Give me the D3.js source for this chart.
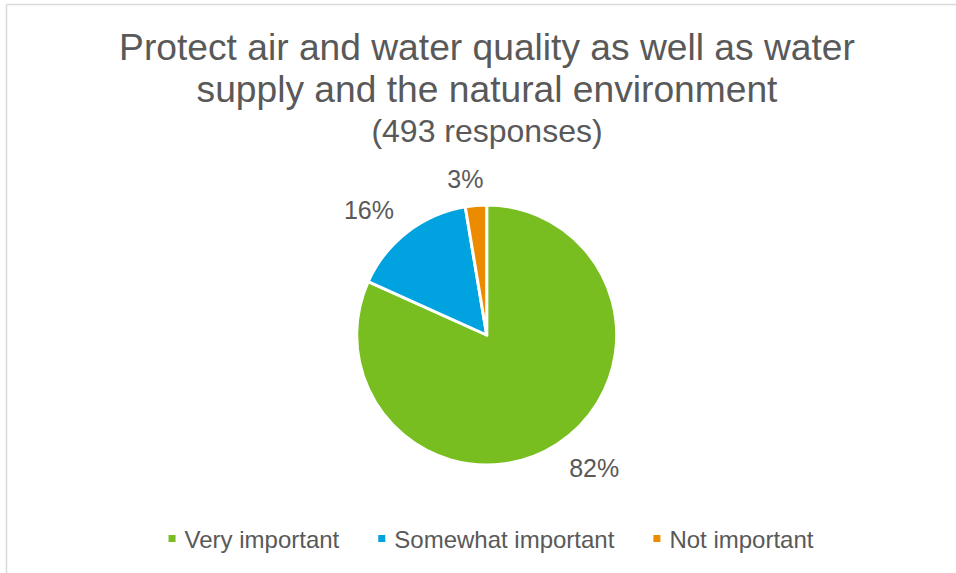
<!DOCTYPE html>
<html>
<head>
<meta charset="utf-8">
<script src="https://cdn.jsdelivr.net/npm/d3@7"></script>
<style>
  html, body { margin: 0; padding: 0; background: #fff; }
  svg text { font-family: "Liberation Sans", Arial, sans-serif; fill: #595959; }
</style>
</head>
<body>
<svg id="chart" width="956" height="573"></svg>
<script>
const titleLines = ["Protect air and water quality as well as water", "supply and the natural environment"];
const subtitle = "(493 responses)";
const categories = ["Very important", "Somewhat important", "Not important"];
const counts = [403, 77, 13];
const percentLabels = ["82%", "16%", "3%"];
const colors = ["#78BE20", "#00A3E0", "#ED8B00"];

const svg = d3.select("#chart");
const W = 956, H = 573;

// chart border (top and left visible)
svg.append("line").attr("x1", 6.5).attr("y1", 4.5).attr("x2", W).attr("y2", 4.5)
  .attr("stroke", "#d9d9d9").attr("stroke-width", 1.5);
svg.append("line").attr("x1", 6.5).attr("y1", 4.5).attr("x2", 6.5).attr("y2", H)
  .attr("stroke", "#d9d9d9").attr("stroke-width", 1.5);

// title
const cx = 487;
svg.append("text").attr("x", cx).attr("y", 60).attr("text-anchor", "middle")
  .attr("font-size", 37.2).text(titleLines[0]);
svg.append("text").attr("x", cx).attr("y", 102).attr("text-anchor", "middle")
  .attr("font-size", 37.2).text(titleLines[1]);
svg.append("text").attr("x", cx).attr("y", 142).attr("text-anchor", "middle")
  .attr("font-size", 32).text(subtitle);

// pie
const pcx = 486.7, pcy = 335, R = 130;
const pie = d3.pie().sort(null).value(d => d)(counts);
const arc = d3.arc().innerRadius(0).outerRadius(R);
const g = svg.append("g").attr("transform", `translate(${pcx},${pcy})`);
g.selectAll("path").data(pie).join("path")
  .attr("d", arc)
  .attr("fill", (d, i) => colors[i])
  .attr("stroke", "#fff").attr("stroke-width", 3).attr("stroke-linejoin", "round");

// labels outside end
const labR = R + 22;
const lw = [50, 50, 35], lh = 10;
pie.forEach((d, i) => {
  const a = (d.startAngle + d.endAngle) / 2;
  const s = Math.sin(a), c = Math.cos(a);
  const px = labR * s, py = -labR * c;
  const dx = (lw[i] / 2) * Math.sign(s) * Math.min(1, Math.abs(s) * 6);
  const dy = -(lh / 2) * Math.sign(c) * Math.min(1, Math.abs(c) * 3);
  g.append("text")
    .attr("x", px + dx).attr("y", py + dy)
    .attr("text-anchor", "middle").attr("dominant-baseline", "central")
    .attr("font-size", 25).text(percentLabels[i]);
});

// legend
const legY = 539;
const lg = svg.append("g");
const items = lg.selectAll("g").data(categories).join("g");
items.append("rect").attr("width", 7).attr("height", 7).attr("y", legY - 4)
  .attr("fill", (d, i) => colors[i]);
items.append("text").attr("x", 16).attr("y", legY).attr("dominant-baseline", "central")
  .attr("font-size", 24).text(d => d);
let x = 0;
const gap = 39;
items.each(function() {
  const t = d3.select(this).select("text").node().getComputedTextLength();
  d3.select(this).attr("transform", `translate(${x},0)`);
  x += 16 + t + gap;
});
const total = x - gap;
lg.attr("transform", `translate(${491 - total / 2},0)`);
</script>
</body>
</html>
